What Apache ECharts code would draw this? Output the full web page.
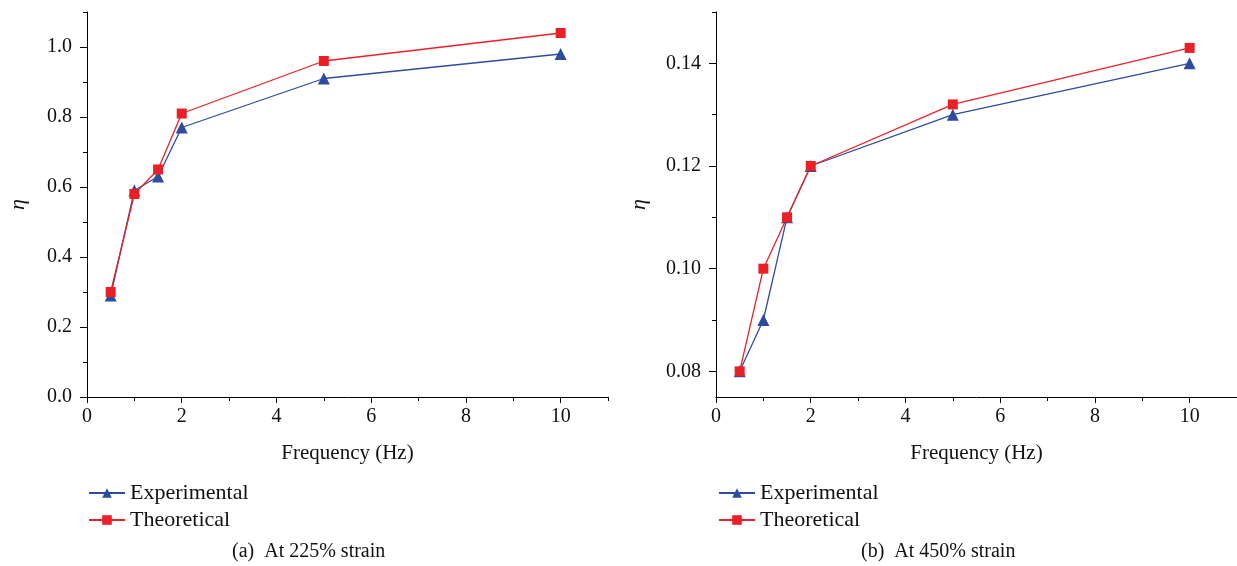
<!DOCTYPE html>
<html>
<head>
<meta charset="utf-8">
<script src="https://cdn.jsdelivr.net/npm/echarts@6/dist/echarts.min.js"></script>
</head>
<body style="margin:0;background:#fff">
<div id="chart" style="width:1237px;height:566px"></div>
<script>
// frequency (Hz)
var freq = [0.5, 1, 1.5, 2, 5, 10];
// (a) 225% strain
var expA = [0.29, 0.59, 0.63, 0.77, 0.91, 0.98];
var theoA = [0.30, 0.58, 0.65, 0.81, 0.96, 1.04];
// (b) 450% strain
var expB = [0.080, 0.090, 0.110, 0.120, 0.130, 0.140];
var theoB = [0.080, 0.100, 0.110, 0.120, 0.132, 0.143];

var xMajor = [0, 2, 4, 6, 8, 10];
var xMinor = [1, 3, 5, 7, 9, 11];
var yMajorA = [0, 0.2, 0.4, 0.6, 0.8, 1.0];
var yMinorA = [0.1, 0.3, 0.5, 0.7, 0.9, 1.1];
var yMajorB = [0.08, 0.10, 0.12, 0.14];
var yMinorB = [0.09, 0.11, 0.13, 0.15];

var BLUE = '#2d4c9e';
var RED = '#ec1f26';
var FONT = 'Liberation Serif';

function pairs(ys) {
  return freq.map(function (x, i) { return [x, ys[i]]; });
}

var lineStyle = { color: '#000', width: 1 };

function mainX(grid) {
  return {
    type: 'value', gridIndex: grid, min: 0, max: 11,
    name: 'Frequency (Hz)', nameLocation: 'middle', nameGap: 46,
    nameTextStyle: { fontFamily: FONT, fontSize: 21, color: '#111' },
    axisLine: { show: true, lineStyle: lineStyle },
    axisTick: { show: true, length: 6, lineStyle: lineStyle, customValues: xMajor },
    axisLabel: { customValues: xMajor, margin: 10, fontFamily: FONT, fontSize: 20, color: '#111' },
    splitLine: { show: false }
  };
}
function minorX(grid) {
  return {
    type: 'value', gridIndex: grid, min: 0, max: 11, position: 'bottom',
    axisLine: { show: false },
    axisTick: { show: true, length: 4, lineStyle: lineStyle, customValues: xMinor },
    axisLabel: { show: false },
    splitLine: { show: false }
  };
}
function mainY(grid, min, max, major, digits, gap) {
  return {
    type: 'value', gridIndex: grid, min: min, max: max,
    name: 'η', nameLocation: 'middle', nameGap: gap, nameRotate: 90,
    nameTextStyle: { fontFamily: FONT, fontSize: 22, fontStyle: 'italic', color: '#111' },
    axisLine: { show: true, lineStyle: lineStyle },
    axisTick: { show: true, length: 7, lineStyle: lineStyle, customValues: major },
    axisLabel: {
      customValues: major, margin: 15, fontFamily: FONT, fontSize: 20, color: '#111',
      formatter: function (v) { return v.toFixed(digits); }
    },
    splitLine: { show: false }
  };
}
function minorY(grid, min, max, minor) {
  return {
    type: 'value', gridIndex: grid, min: min, max: max, position: 'left',
    axisLine: { show: false },
    axisTick: { show: true, length: 4, lineStyle: lineStyle, customValues: minor },
    axisLabel: { show: false },
    splitLine: { show: false }
  };
}
function line(name, x, y, data, color, symbol, size) {
  return {
    name: name, type: 'line', xAxisIndex: x, yAxisIndex: y, data: data,
    symbol: symbol, symbolSize: size, showSymbol: true,
    lineStyle: { color: color, width: 1.3 },
    itemStyle: { color: color },
    emphasis: { disabled: true }, animation: false
  };
}
function legend(left) {
  return {
    orient: 'vertical', left: left, top: 477, itemWidth: 36, itemHeight: 12, itemGap: 5,
    data: ['Experimental', 'Theoretical'], selectedMode: false,
    textStyle: { fontFamily: FONT, fontSize: 22, color: '#111', lineHeight: 20 }
  };
}

var chart = echarts.init(document.getElementById('chart'));
chart.setOption({
  backgroundColor: '#fff',
  animation: false,
  grid: [
    { left: 87, top: 12, width: 521, height: 385 },
    { left: 716, top: 12, width: 521, height: 385 }
  ],
  xAxis: [mainX(0), minorX(0), mainX(1), minorX(1)],
  yAxis: [
    mainY(0, 0, 1.1, yMajorA, 1, 58),
    minorY(0, 0, 1.1, yMinorA),
    mainY(1, 0.075, 0.15, yMajorB, 2, 66),
    minorY(1, 0.075, 0.15, yMinorB)
  ],
  legend: [legend(83), legend(713)],
  series: [
    line('Experimental', 0, 0, pairs(expA), BLUE, 'triangle', 12),
    line('Theoretical', 0, 0, pairs(theoA), RED, 'rect', 10),
    line('Experimental', 2, 2, pairs(expB), BLUE, 'triangle', 12),
    line('Theoretical', 2, 2, pairs(theoB), RED, 'rect', 10)
  ],
  graphic: [
    { type: 'text', left: 232, top: 542, style: { text: '(a)  At 225% strain', font: '20px "Liberation Serif"', fill: '#111' } },
    { type: 'text', left: 861, top: 542, style: { text: '(b)  At 450% strain', font: '20px "Liberation Serif"', fill: '#111' } }
  ]
});
</script>
</body>
</html>
